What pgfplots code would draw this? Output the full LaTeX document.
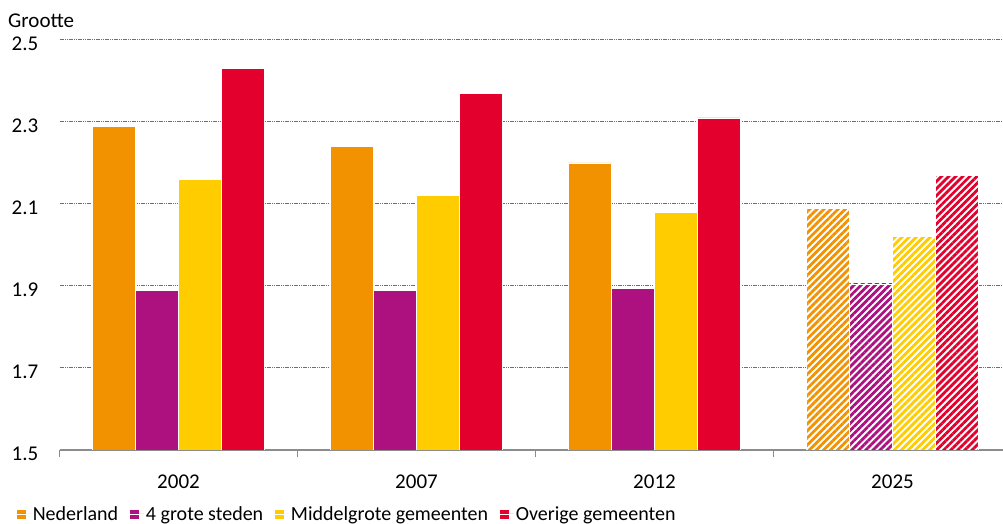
\documentclass[border=0pt]{standalone}
\usepackage{fontspec}
\setmainfont{Carlito}
\usepackage{pgfplots}
\pgfplotsset{compat=1.18}
\usetikzlibrary{patterns.meta}

\definecolor{cNed}{RGB}{242,146,0}
\definecolor{cVier}{RGB}{173,16,127}
\definecolor{cMid}{RGB}{255,204,0}
\definecolor{cOv}{RGB}{227,0,45}
\definecolor{cAxis}{RGB}{140,140,140}
\definecolor{cGrid}{RGB}{110,110,110}

% Gemiddelde huishoudensgrootte (2025: prognose)
\pgfplotstableread{
x   ned   vier  mid   ov
0   2.29  1.89  2.16  2.43
1   2.24  1.89  2.12  2.37
2   2.20  1.895 2.08  2.31
}\gemeten
\pgfplotstableread{
x   ned   vier  mid   ov
3   2.09  1.905 2.02  2.17
}\prognose

\tikzset{
  prog/.style={fill=white, draw=white, line width=0.75pt,
    postaction={pattern={Lines[angle=45, distance=5pt, line width=2.8pt]},
                pattern color=#1}},
}

\begin{document}
\begin{tikzpicture}
% the page is cut at the right, the last category runs on a little past it
\path[use as bounding box] (0,0) rectangle (1003pt,524pt);
\node[anchor=base west, inner sep=0pt, font=\fontsize{21}{24}\selectfont]
  at (8pt,496pt) {Grootte};
\begin{axis}[
  at={(59.5pt,74pt)}, anchor=south west,
  scale only axis, width=952pt, height=410pt,
  ymin=1.5, ymax=2.5, ytick={1.5,1.7,...,2.5},
  xmin=-0.5, xmax=3.5,
  xtick={0,1,2,3}, xticklabels={2002,2007,2012,2025},
  minor xtick={-0.5,0.5,1.5,2.5},
  major tick length=0pt, minor tick length=7pt,
  tick align=outside,
  minor tick style={cAxis, line width=1pt},
  axis x line*=bottom, axis y line*=left,
  x axis line style={cAxis, line width=2pt, -},
  y axis line style={draw=none},
  ymajorgrids,
  major grid style={cGrid, line width=1pt, dash pattern=on 1.2pt off 0.6pt},
  /pgf/number format/assume math mode=true,
  /pgf/number format/.cd, fixed, fixed zerofill, precision=1, /pgfplots/.cd,
  ticklabel style={font=\fontsize{21}{24}\selectfont},
  yticklabel style={anchor=east, inner sep=0pt, xshift=-21pt, yshift=-4pt},
  xticklabel style={anchor=center, yshift=-32pt, inner sep=0pt},
  ybar=0pt, bar width=0.181,
  legend style={at={(-43.5pt,-74pt+10pt)}, anchor=west, draw=none, fill=none,
    legend columns=4, font=\fontsize{20}{22}\selectfont,
    /tikz/every even column/.style={column sep=9pt},
    inner sep=0pt, outer sep=0pt},
  legend cell align=left,
  legend image code/.code={\fill[#1] (0pt,-5pt) rectangle (10pt,5pt);
    \path (0pt,0pt) -- (14pt,0pt);},
]
\addplot[fill=cNed, draw=white, line width=0.75pt, bar shift=-0.2715]
  table[x=x, y=ned] {\gemeten};
\addlegendentry{Nederland}
\addplot[fill=cVier, draw=white, line width=0.75pt, bar shift=-0.0905]
  table[x=x, y=vier] {\gemeten};
\addlegendentry{4 grote steden}
\addplot[fill=cMid, draw=white, line width=0.75pt, bar shift=0.0905]
  table[x=x, y=mid] {\gemeten};
\addlegendentry{Middelgrote gemeenten}
\addplot[fill=cOv, draw=white, line width=0.75pt, bar shift=0.2715]
  table[x=x, y=ov] {\gemeten};
\addlegendentry{Overige gemeenten}

\addplot[prog=cNed, bar shift=-0.2715, forget plot]
  table[x=x, y=ned] {\prognose};
\addplot[prog=cVier, bar shift=-0.0905, forget plot]
  table[x=x, y=vier] {\prognose};
\addplot[prog=cMid, bar shift=0.0905, forget plot]
  table[x=x, y=mid] {\prognose};
\addplot[prog=cOv, bar shift=0.2715, forget plot]
  table[x=x, y=ov] {\prognose};
\end{axis}
\end{tikzpicture}
\end{document}
